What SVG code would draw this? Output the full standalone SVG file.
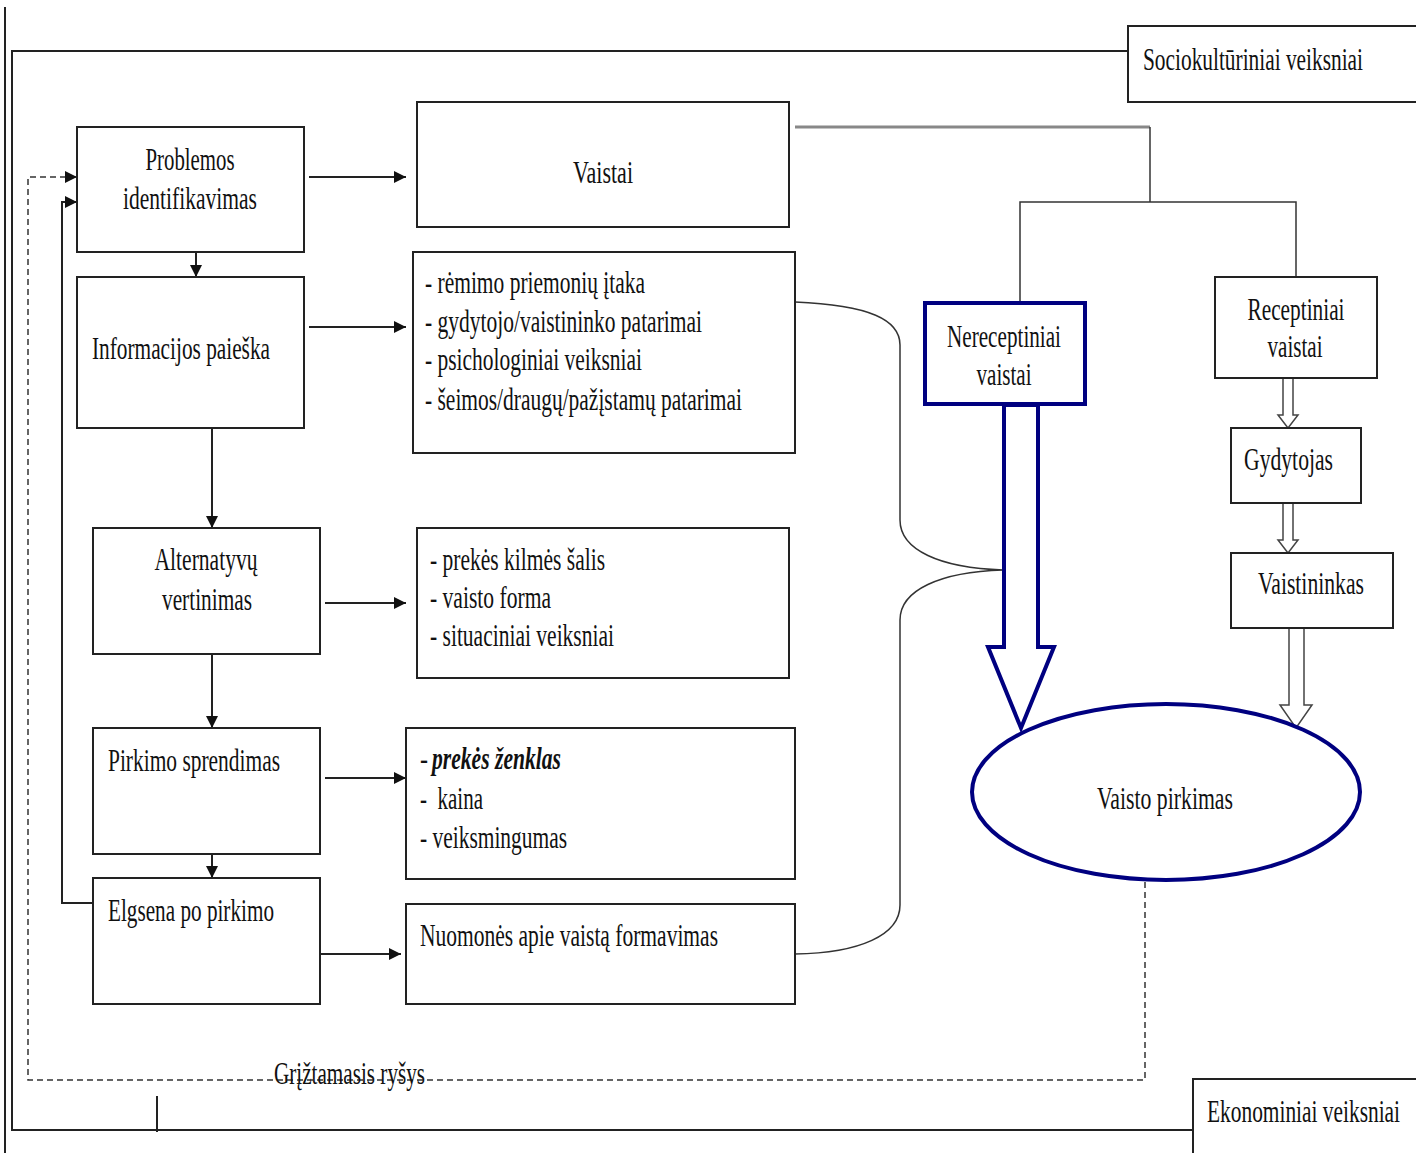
<svg xmlns="http://www.w3.org/2000/svg" width="1416" height="1153" viewBox="0 0 1416 1153">
  <defs>
    <marker id="arr" viewBox="0 0 12 12" refX="12" refY="6" markerWidth="12" markerHeight="12" markerUnits="userSpaceOnUse" orient="auto">
      <path d="M0,0 L12,6 L0,12 Z" fill="#111"/>
    </marker>
    <style>
      .box { fill: #fff; stroke: #222; stroke-width: 2; }
      .nav { fill: #fff; stroke: #000080; stroke-width: 4; }
      .ln { fill: none; stroke: #222; stroke-width: 2; }
      .thin { fill: none; stroke: #333; stroke-width: 1.5; }
      .dash { fill: none; stroke: #333; stroke-width: 1.5; stroke-dasharray: 6 4; }
      .hol { fill: #fff; stroke: #444; stroke-width: 1.5; }
      .t { font-family: "Liberation Serif", "Times New Roman", serif; font-size: 32px; fill: #111; }
      .c { text-anchor: middle; }
      .bi { font-weight: bold; font-style: italic; }
    </style>
  </defs>

  <rect width="1416" height="1153" fill="#fff"/>

  <!-- outer frame -->
  <g id="frame">
    <line x1="5" y1="7" x2="5" y2="1153" class="ln"/>
    <polyline points="1128,51 12,51 12,1130 1193,1130" class="ln"/>
    <line x1="157" y1="1096" x2="157" y2="1132" class="ln"/>
  </g>

  <!-- connectors -->
  <g id="connectors">
    <!-- stage to stage -->
    <line x1="196" y1="252" x2="196" y2="277" class="ln" marker-end="url(#arr)"/>
    <line x1="212" y1="428" x2="212" y2="528" class="ln" marker-end="url(#arr)"/>
    <line x1="212" y1="654" x2="212" y2="728" class="ln" marker-end="url(#arr)"/>
    <line x1="212" y1="854" x2="212" y2="878" class="ln" marker-end="url(#arr)"/>
    <!-- stage to factors -->
    <line x1="309" y1="177" x2="406" y2="177" class="ln" marker-end="url(#arr)"/>
    <line x1="309" y1="327" x2="406" y2="327" class="ln" marker-end="url(#arr)"/>
    <line x1="325" y1="603" x2="406" y2="603" class="ln" marker-end="url(#arr)"/>
    <line x1="325" y1="778" x2="406" y2="778" class="ln" marker-end="url(#arr)"/>
    <line x1="320" y1="954" x2="401" y2="954" class="ln" marker-end="url(#arr)"/>
    <!-- solid loop back -->
    <polyline points="93,903 62,903 62,202 77,202" class="ln" marker-end="url(#arr)"/>
    <!-- dashed feedback -->
    <polyline points="1145,882 1145,1080 28,1080 28,177 77,177" class="dash" marker-end="url(#arr)"/>
    <!-- medicine split -->
    <polyline points="795,127 1150,127" fill="none" stroke="#888" stroke-width="3"/>
    <line x1="1150" y1="127" x2="1150" y2="202" class="thin"/>
    <polyline points="1020,302 1020,202 1296,202 1296,277" class="thin"/>
    <!-- brace -->
    <path d="M795,302 C870,305 900,320 900,345 L900,520 C900,550 940,568 1003,570 C940,572 900,590 900,620 L900,905 C900,935 860,953 795,954" class="thin"/>
    <!-- hollow arrows, prescription path -->
    <path d="M1283,378 L1293,378 L1293,415 L1298,415 L1288,428 L1278,415 L1283,415 Z" class="hol"/>
    <path d="M1283,503 L1293,503 L1293,540 L1298,540 L1288,553 L1278,540 L1283,540 Z" class="hol"/>
    <path d="M1289,628 L1304,628 L1304,705 L1312,705 L1296,728 L1280,705 L1289,705 Z" class="hol"/>
    <!-- large arrow -->
    <path d="M1004,405 L1038,405 L1038,647 L1054,647 L1021,728 L988,647 L1004,647 Z" class="nav"/>
  </g>

  <g id="socio">
    <rect x="1128" y="26" width="290" height="76" class="box"/>
    <text x="0" y="0" transform="translate(1143,70) scale(0.65,1)" class="t" textLength="338.5" lengthAdjust="spacingAndGlyphs">Sociokultūriniai veiksniai</text>
  </g>
  <g id="ekon">
    <rect x="1193" y="1079" width="225" height="90" class="box"/>
    <text x="0" y="0" transform="translate(1207,1122) scale(0.65,1)" class="t" textLength="297" lengthAdjust="spacingAndGlyphs">Ekonominiai veiksniai</text>
  </g>

  <g id="problemos">
    <rect x="77" y="127" width="227" height="125" class="box"/>
    <text x="190" y="170" class="t c" textLength="89" lengthAdjust="spacingAndGlyphs">Problemos</text>
    <text x="190" y="209" class="t c" textLength="134" lengthAdjust="spacingAndGlyphs">identifikavimas</text>
  </g>
  <g id="informacijos">
    <rect x="77" y="277" width="227" height="151" class="box"/>
    <text x="92" y="359" class="t" textLength="178" lengthAdjust="spacingAndGlyphs">Informacijos paieška</text>
  </g>
  <g id="alternatyvu">
    <rect x="93" y="528" width="227" height="126" class="box"/>
    <text x="206" y="570" class="t c" textLength="103" lengthAdjust="spacingAndGlyphs">Alternatyvų</text>
    <text x="207" y="610" class="t c" textLength="90" lengthAdjust="spacingAndGlyphs">vertinimas</text>
  </g>
  <g id="pirkimo">
    <rect x="93" y="728" width="227" height="126" class="box"/>
    <text x="108" y="771" class="t" textLength="172" lengthAdjust="spacingAndGlyphs">Pirkimo sprendimas</text>
  </g>
  <g id="elgsena">
    <rect x="93" y="878" width="227" height="126" class="box"/>
    <text x="108" y="921" class="t" textLength="166" lengthAdjust="spacingAndGlyphs">Elgsena po pirkimo</text>
  </g>

  <g id="vaistai">
    <rect x="417" y="102" width="372" height="125" class="box"/>
    <text x="603" y="183" class="t c" textLength="60" lengthAdjust="spacingAndGlyphs">Vaistai</text>
  </g>
  <g id="info-factors">
    <rect x="413" y="252" width="382" height="201" class="box"/>
    <text x="425" y="293" class="t" textLength="220" lengthAdjust="spacingAndGlyphs">- rėmimo priemonių įtaka</text>
    <text x="425" y="332" class="t" textLength="277" lengthAdjust="spacingAndGlyphs">- gydytojo/vaistininko patarimai</text>
    <text x="425" y="370" class="t" textLength="217" lengthAdjust="spacingAndGlyphs">- psichologiniai veiksniai</text>
    <text x="425" y="410" class="t" textLength="317" lengthAdjust="spacingAndGlyphs">- šeimos/draugų/pažįstamų patarimai</text>
  </g>
  <g id="alt-factors">
    <rect x="417" y="528" width="372" height="150" class="box"/>
    <text x="430" y="570" class="t" textLength="175" lengthAdjust="spacingAndGlyphs">- prekės kilmės šalis</text>
    <text x="430" y="608" class="t" textLength="121" lengthAdjust="spacingAndGlyphs">- vaisto forma</text>
    <text x="430" y="646" class="t" textLength="184" lengthAdjust="spacingAndGlyphs">- situaciniai veiksniai</text>
  </g>
  <g id="buy-factors">
    <rect x="406" y="728" width="389" height="151" class="box"/>
    <text x="420" y="769" class="t" textLength="8" lengthAdjust="spacingAndGlyphs">-</text>
    <text x="432" y="769" class="t bi" textLength="129" lengthAdjust="spacingAndGlyphs">prekės ženklas</text>
    <text x="420" y="809" class="t" textLength="63" lengthAdjust="spacingAndGlyphs">-&#160; kaina</text>
    <text x="420" y="848" class="t" textLength="147" lengthAdjust="spacingAndGlyphs">- veiksmingumas</text>
  </g>
  <g id="nuomones">
    <rect x="406" y="904" width="389" height="100" class="box"/>
    <text x="420" y="946" class="t" textLength="298" lengthAdjust="spacingAndGlyphs">Nuomonės apie vaistą formavimas</text>
  </g>

  <g id="nereceptiniai">
    <rect x="925" y="303" width="160" height="101" class="nav"/>
    <text x="1004" y="347" class="t c" textLength="114" lengthAdjust="spacingAndGlyphs">Nereceptiniai</text>
    <text x="1004" y="385" class="t c" textLength="55" lengthAdjust="spacingAndGlyphs">vaistai</text>
  </g>
  <g id="receptiniai">
    <rect x="1215" y="277" width="162" height="101" class="box"/>
    <text x="1296" y="320" class="t c" textLength="97" lengthAdjust="spacingAndGlyphs">Receptiniai</text>
    <text x="1295" y="357" class="t c" textLength="55" lengthAdjust="spacingAndGlyphs">vaistai</text>
  </g>
  <g id="gydytojas">
    <rect x="1231" y="428" width="130" height="75" class="box"/>
    <text x="1244" y="470" class="t" textLength="89" lengthAdjust="spacingAndGlyphs">Gydytojas</text>
  </g>
  <g id="vaistininkas">
    <rect x="1231" y="553" width="162" height="75" class="box"/>
    <text x="1258" y="594" class="t" textLength="106" lengthAdjust="spacingAndGlyphs">Vaistininkas</text>
  </g>
  <g id="pirkimas">
    <ellipse cx="1166" cy="792" rx="194" ry="88" class="nav"/>
    <text x="1165" y="809" class="t c" textLength="136" lengthAdjust="spacingAndGlyphs">Vaisto pirkimas</text>
  </g>

  <g id="feedback-label">
    <text x="274" y="1084" class="t" textLength="151" lengthAdjust="spacingAndGlyphs">Grįžtamasis ryšys</text>
  </g>
</svg>
